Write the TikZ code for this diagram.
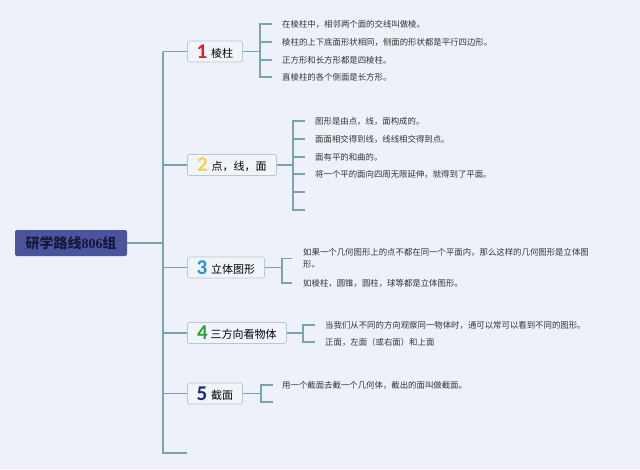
\documentclass[tikz,border=0pt]{standalone}
\usepackage{fontspec}
\newfontfamily\cjk{Noto Sans CJK SC}
\newfontfamily\numf{Carlito}
\newfontfamily\serifnum{Liberation Serif}
\newcommand\bignum[2]{\raisebox{-1pt}{\numf\bfseries\fontsize{21}{21}\selectfont\color{#1}#2}}
\definecolor{bg}{HTML}{EEF1FA}
\definecolor{ln}{HTML}{78A6AA}
\definecolor{boxfill}{HTML}{F1F5FA}
\definecolor{boxdraw}{HTML}{B5C8D3}
\definecolor{rootfill}{HTML}{4B559E}
\definecolor{roottext}{HTML}{15183A}
\definecolor{txt}{HTML}{333333}
\definecolor{nred}{HTML}{D9202C}
\definecolor{nyellow}{HTML}{F3D448}
\definecolor{nblue}{HTML}{2A90D8}
\definecolor{ngreen}{HTML}{2E9E35}
\definecolor{nnavy}{HTML}{1E2A78}
\tikzset{
  conn/.style={draw=ln, line width=1.5pt},
  branchbox/.style={draw=boxdraw, fill=boxfill, rounded corners=1.5pt, line width=0.8pt,
    anchor=west, minimum height=21pt, inner sep=0pt, font=\cjk\fontsize{11}{13}\selectfont, text=black},
  leaftext/.style={anchor=west, inner sep=0pt, font=\cjk\fontsize{8.4}{12.5}\selectfont, text=txt, align=left}
}
\begin{document}
\begin{tikzpicture}[x=1pt,y=-1pt]
\fill[bg] (0,0) rectangle (640,469);
\useasboundingbox (0,0) rectangle (640,469);
% root
\node[fill=rootfill, rounded corners=2pt, minimum width=112pt, minimum height=26pt, inner sep=0pt,
  text=roottext, font=\cjk\bfseries\fontsize{14}{16}\selectfont] (root) at (71,243)
  {研学路线{\serifnum\bfseries 806}组};
% branch boxes
\node[branchbox, minimum width=55pt] (b1) at (187,51.5) {\bignum{nred}{1}\hspace{4pt}棱柱};
\node[branchbox, minimum width=89pt] (b2) at (187,165) {\bignum{nyellow}{2}\hspace{4pt}点，线，面};
\node[branchbox, minimum width=77pt] (b3) at (187,267.5) {\bignum{nblue}{3}\hspace{4pt}立体图形};
\node[branchbox, minimum width=99pt] (b4) at (187,333) {\bignum{ngreen}{4}\hspace{3pt}三方向看物体};
\node[branchbox, minimum width=55pt] (b5) at (187,393.5) {\bignum{nnavy}{5}\hspace{4pt}截面};
% trunk
\coordinate (ttop) at (163,51.5);
\coordinate (tbot) at (163,453);
\coordinate (tend) at (187,453);
\draw[conn] (ttop) -- (tbot) -- (tend);
\draw[conn] (root.east) -- (root.east -| ttop);
\draw[conn] (b1.west) -- (b1.west -| ttop);
\draw[conn] (b2.west) -- (b2.west -| ttop);
\draw[conn] (b3.west) -- (b3.west -| ttop);
\draw[conn] (b4.west) -- (b4.west -| ttop);
\draw[conn] (b5.west) -- (b5.west -| ttop);
% group 1
\coordinate (k1) at (260,51.5);
\node[leaftext] (t11) at (282,24) {在棱柱中，相邻两个面的交线叫做棱。};
\node[leaftext] (t12) at (282,42) {棱柱的上下底面形状相同，侧面的形状都是平行四边形。};
\node[leaftext] (t13) at (282,60) {正方形和长方形都是四棱柱。};
\node[leaftext] (t14) at (282,77) {直棱柱的各个侧面是长方形。};
\draw[conn] (b1.east) -- (k1);
\draw[conn] ([xshift=-10pt]t11.west) -- (t11.west -| k1) -- (t14.west -| k1) -- ([xshift=-10pt]t14.west)
  ([xshift=-0.75pt]t12.west -| k1) -- ([xshift=-10pt]t12.west)
  ([xshift=-0.75pt]t13.west -| k1) -- ([xshift=-10pt]t13.west);
% group 2
\coordinate (k2) at (293,165);
\node[leaftext] (t21) at (315,121) {图形是由点，线，面构成的。};
\node[leaftext] (t22) at (315,139) {面面相交得到线，线线相交得到点。};
\node[leaftext] (t23) at (315,157) {面有平的和曲的。};
\node[leaftext] (t24) at (315,174) {将一个平的面向四周无限延伸，就得到了平面。};
\coordinate (t25) at (315,192);
\coordinate (t26) at (315,210);
\draw[conn] (b2.east) -- (k2);
\draw[conn] ([xshift=-10pt]t21.west) -- (t21.west -| k2) -- (t26 -| k2) -- ([xshift=-10pt]t26)
  ([xshift=-0.75pt]t22.west -| k2) -- ([xshift=-10pt]t22.west)
  ([xshift=-0.75pt]t23.west -| k2) -- ([xshift=-10pt]t23.west)
  ([xshift=-0.75pt]t24.west -| k2) -- ([xshift=-10pt]t24.west)
  ([xshift=-0.75pt]t25 -| k2) -- ([xshift=-10pt]t25);
% group 3
\coordinate (k3) at (282,267.5);
\node[leaftext] (t31) at (303,258.5) {如果一个几何图形上的点不都在同一个平面内，那么这样的几何图形是立体图\\形。};
\node[leaftext] (t32) at (303,283) {如棱柱，圆锥，圆柱，球等都是立体图形。};
\draw[conn] (b3.east) -- (k3);
\draw[conn] ([xshift=-11pt]t31.west) -- (t31.west -| k3) -- (t32.west -| k3) -- ([xshift=-11pt]t32.west);
% group 4
\coordinate (k4) at (303,333);
\node[leaftext] (t41) at (325,325) {当我们从不同的方向观察同一物体时，通可以常可以看到不同的图形。};
\node[leaftext] (t42) at (325,342) {正面，左面（或右面）和上面};
\draw[conn] (b4.east) -- (k4);
\draw[conn] ([xshift=-10pt]t41.west) -- (t41.west -| k4) -- (t42.west -| k4) -- ([xshift=-10pt]t42.west);
% group 5
\coordinate (k5) at (261,393.5);
\node[leaftext] (t51) at (282,385) {用一个截面去截一个几何体，截出的面叫做截面。};
\coordinate (t52) at (282,402);
\draw[conn] (b5.east) -- (k5);
\draw[conn] ([xshift=-9pt]t51.west) -- (t51.west -| k5) -- (t52 -| k5) -- ([xshift=-9pt]t52);
\end{tikzpicture}
\end{document}
